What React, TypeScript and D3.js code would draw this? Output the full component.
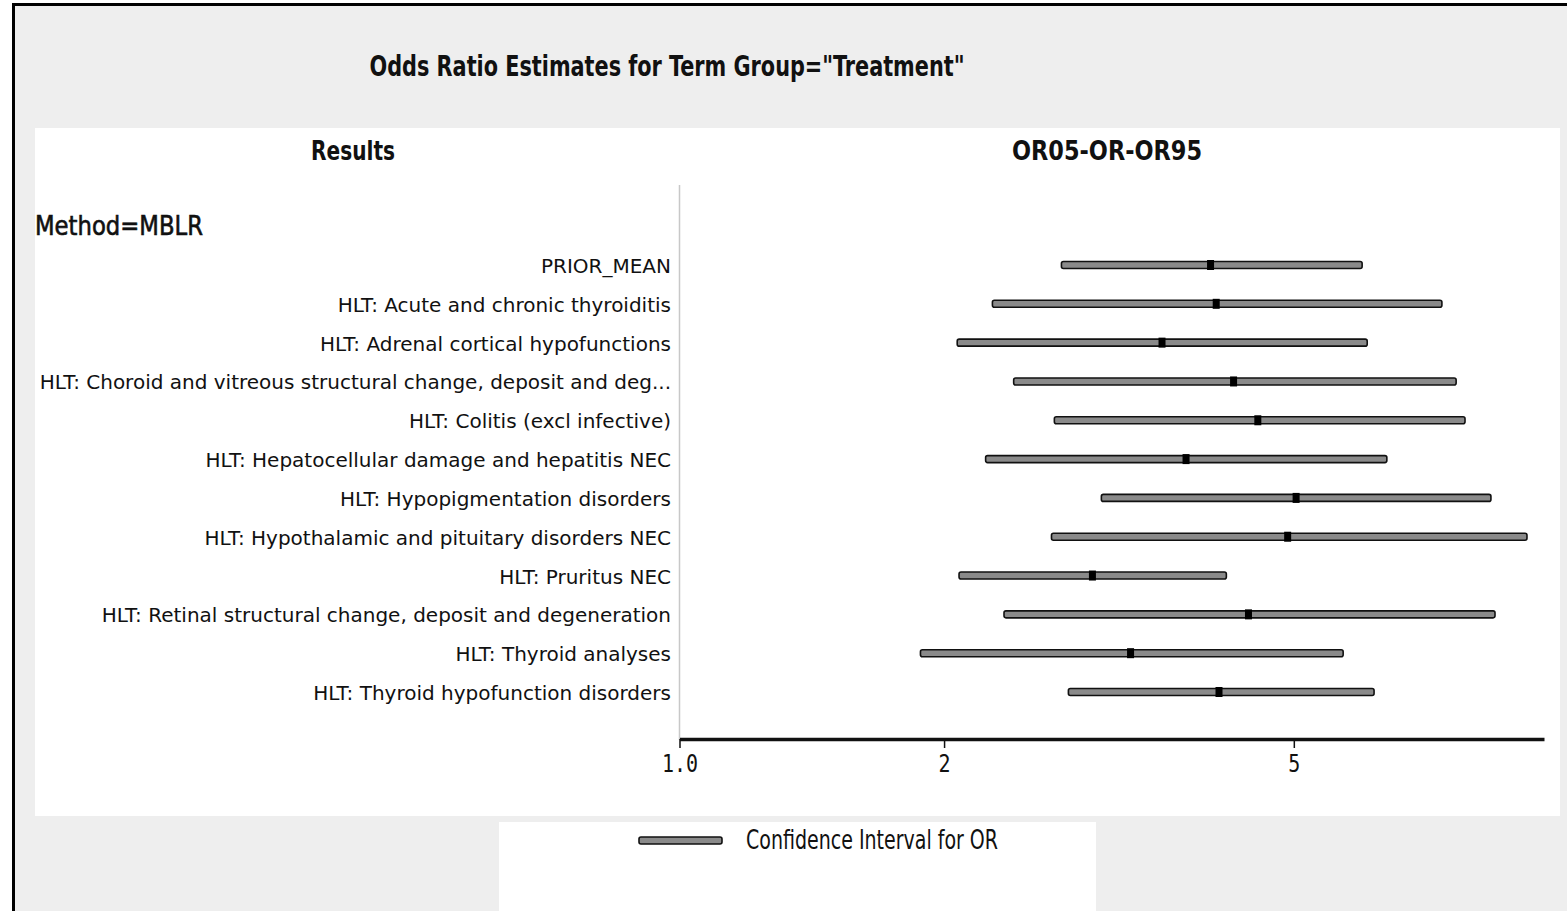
import React, { useEffect, useRef } from "react";
import * as d3 from "d3";

const TITLE = 'Odds Ratio Estimates for Term Group="Treatment"';
const COL_LEFT = "Results";
const COL_RIGHT = "OR05-OR-OR95";
const GROUP_LABEL = "Method=MBLR";
const LEGEND_LABEL = "Confidence Interval for OR";

const terms: string[] = [
  "PRIOR_MEAN",
  "HLT: Acute and chronic thyroiditis",
  "HLT: Adrenal cortical hypofunctions",
  "HLT: Choroid and vitreous structural change, deposit and deg...",
  "HLT: Colitis (excl infective)",
  "HLT: Hepatocellular damage and hepatitis NEC",
  "HLT: Hypopigmentation disorders",
  "HLT: Hypothalamic and pituitary disorders NEC",
  "HLT: Pruritus NEC",
  "HLT: Retinal structural change, deposit and degeneration",
  "HLT: Thyroid analyses",
  "HLT: Thyroid hypofunction disorders",
];
const or05: number[] = [2.72, 2.27, 2.07, 2.4, 2.67, 2.23, 3.02, 2.65, 2.08, 2.34, 1.88, 2.77];
const orEst: number[] = [4.02, 4.08, 3.54, 4.27, 4.55, 3.77, 5.03, 4.92, 2.95, 4.44, 3.26, 4.11];
const or95: number[] = [5.98, 7.37, 6.06, 7.65, 7.83, 6.38, 8.38, 9.21, 4.19, 8.47, 5.69, 6.17];
const tickValues: number[] = [1, 2, 5];
const xDomain: [number, number] = [1, 9.63];

const W = 1567;
const H = 911;

export default function App() {
  const ref = useRef<SVGSVGElement | null>(null);

  useEffect(() => {
    const svg = d3.select(ref.current);
    svg.selectAll("*").remove();

    // background
    svg.append("rect").attr("x", 0).attr("y", 0).attr("width", W).attr("height", H).attr("fill", "#ffffff");
    svg.append("rect").attr("x", 13).attr("y", 4).attr("width", W).attr("height", H).attr("fill", "#eeeeee");
    svg.append("line").attr("x1", 13.5).attr("x2", 13.5).attr("y1", 3).attr("y2", H).attr("stroke", "#000").attr("stroke-width", 3);
    svg.append("line").attr("x1", 12).attr("x2", W).attr("y1", 4.5).attr("y2", 4.5).attr("stroke", "#000").attr("stroke-width", 3);

    // main white panel
    svg.append("rect").attr("x", 35).attr("y", 128).attr("width", 1525).attr("height", 688).attr("fill", "#ffffff");
    // legend panel
    svg.append("rect").attr("x", 499).attr("y", 822).attr("width", 597).attr("height", 100).attr("fill", "#ffffff");

    const titleFont = "'DejaVu Sans Condensed', 'Liberation Sans Narrow', 'DejaVu Sans', sans-serif";

    svg.append("text").attr("x", 667).attr("y", 76).attr("text-anchor", "middle")
      .attr("font-family", titleFont).attr("font-weight", "bold").attr("font-size", 28)
      .attr("textLength", 595).attr("lengthAdjust", "spacingAndGlyphs")
      .attr("fill", "#111").text(TITLE);

    svg.append("text").attr("x", 353).attr("y", 160).attr("text-anchor", "middle")
      .attr("font-family", titleFont).attr("font-weight", "bold").attr("font-size", 26)
      .attr("textLength", 84).attr("lengthAdjust", "spacingAndGlyphs")
      .attr("fill", "#111").text(COL_LEFT);

    svg.append("text").attr("x", 1107).attr("y", 160).attr("text-anchor", "middle")
      .attr("font-family", titleFont).attr("font-weight", "bold").attr("font-size", 26)
      .attr("textLength", 190).attr("lengthAdjust", "spacingAndGlyphs")
      .attr("fill", "#111").text(COL_RIGHT);

    svg.append("text").attr("x", 35).attr("y", 235).attr("text-anchor", "start")
      .attr("font-family", titleFont).attr("font-size", 27)
      .attr("stroke", "#111").attr("stroke-width", 0.6)
      .attr("textLength", 168).attr("lengthAdjust", "spacingAndGlyphs")
      .attr("fill", "#111").text(GROUP_LABEL);

    // scales
    const x = d3.scaleLog().domain(xDomain).range([679.5, 1544]);
    const y = d3.scalePoint<string>().domain(terms).range([265, 692]);

    // vertical separator
    svg.append("line").attr("x1", 679.5).attr("x2", 679.5).attr("y1", 185).attr("y2", 740)
      .attr("stroke", "#c8c8c8").attr("stroke-width", 1.5);

    // row labels
    svg.append("g").selectAll("text").data(terms).join("text")
      .attr("x", 671).attr("y", (d) => (y(d) as number) + 8)
      .attr("text-anchor", "end")
      .attr("font-family", "'DejaVu Sans', sans-serif")
      .attr("font-size", 20).attr("fill", "#111")
      .text((d) => d);

    // CI bars
    const bars = svg.append("g");
    bars.selectAll("rect").data(terms).join("rect")
      .attr("x", (_d, i) => x(or05[i]))
      .attr("y", (d) => (y(d) as number) - 3.5)
      .attr("width", (_d, i) => x(or95[i]) - x(or05[i]))
      .attr("height", 7).attr("rx", 2)
      .attr("fill", "#8a8a8a").attr("stroke", "#111").attr("stroke-width", 1.6);

    // point estimates
    svg.append("g").selectAll("rect").data(terms).join("rect")
      .attr("x", (_d, i) => x(orEst[i]) - 3.5)
      .attr("y", (d) => (y(d) as number) - 5)
      .attr("width", 7).attr("height", 10)
      .attr("fill", "#000");

    // axis
    const axis = d3.axisBottom(x).tickValues(tickValues).tickSize(9).tickSizeOuter(0)
      .tickFormat((d) => ((d as number) === 1 ? "1.0" : String(d)));
    const ag = svg.append("g").attr("transform", "translate(0,739)").call(axis as any);
    ag.select(".domain").attr("stroke", "#111").attr("stroke-width", 3.5);
    ag.selectAll(".tick line").attr("stroke", "#111").attr("stroke-width", 1.5);
    ag.selectAll(".tick text")
      .attr("font-family", "'DejaVu Sans Mono', 'Liberation Mono', monospace")
      .attr("font-size", 25).attr("fill", "#111")
      .attr("x", 0).attr("y", 12).attr("dy", "0.85em")
      .attr("transform", "scale(0.8,1)");

    // legend
    svg.append("rect").attr("x", 639).attr("y", 837).attr("width", 83).attr("height", 7).attr("rx", 2)
      .attr("fill", "#8a8a8a").attr("stroke", "#111").attr("stroke-width", 1.6);
    svg.append("text").attr("x", 746).attr("y", 849)
      .attr("font-family", "'Liberation Sans Narrow', 'DejaVu Sans Condensed', sans-serif")
      .attr("font-size", 26).attr("fill", "#111")
      .attr("textLength", 252).attr("lengthAdjust", "spacingAndGlyphs")
      .text(LEGEND_LABEL);
  }, []);

  return (
    <svg ref={ref} width={W} height={H}
      style={{ position: "absolute", left: 0, top: 0, display: "block" }} />
  );
}
